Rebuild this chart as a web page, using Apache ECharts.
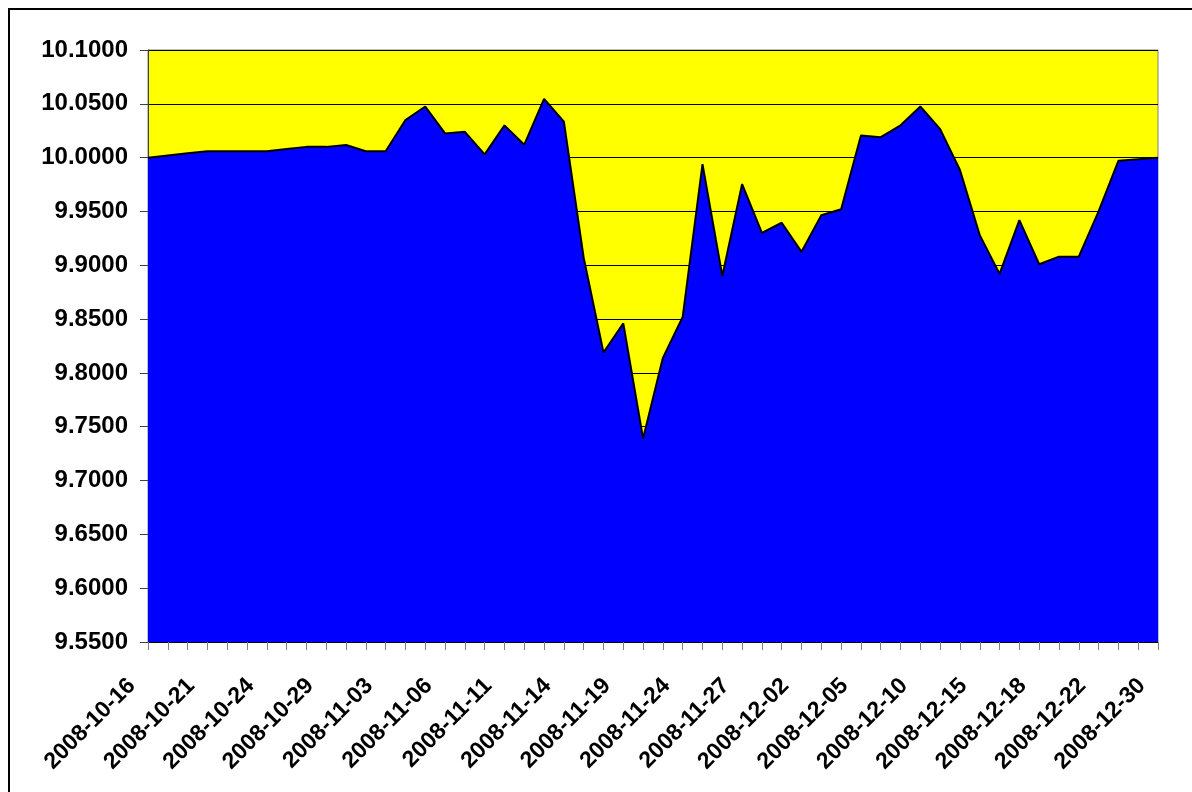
<!DOCTYPE html>
<html style="height: 100%">
<head>
  <meta charset="utf-8" />
  <title>2008 Q4 area chart</title>
  <script src="https://cdn.jsdelivr.net/npm/echarts@6.0.0/dist/echarts.min.js"></script>
</head>
<body style="height: 100%; margin: 0; background: #fff">
  <div id="chart" style="width: 1192px; height: 792px"></div>
  <script>
    const dates = [
      '2008-10-16', '2008-10-17', '2008-10-20', '2008-10-21', '2008-10-22', '2008-10-23',
      '2008-10-24', '2008-10-27', '2008-10-28', '2008-10-29', '2008-10-30', '2008-10-31',
      '2008-11-03', '2008-11-04', '2008-11-05', '2008-11-06', '2008-11-07', '2008-11-10',
      '2008-11-11', '2008-11-12', '2008-11-13', '2008-11-14', '2008-11-17', '2008-11-18',
      '2008-11-19', '2008-11-20', '2008-11-21', '2008-11-24', '2008-11-25', '2008-11-26',
      '2008-11-27', '2008-11-28', '2008-12-01', '2008-12-02', '2008-12-03', '2008-12-04',
      '2008-12-05', '2008-12-08', '2008-12-09', '2008-12-10', '2008-12-11', '2008-12-12',
      '2008-12-15', '2008-12-16', '2008-12-17', '2008-12-18', '2008-12-19', '2008-12-20',
      '2008-12-22', '2008-12-23', '2008-12-24', '2008-12-30'
    ];

    const values = [
      10.0000, 10.0020, 10.0040, 10.0060, 10.0060, 10.0060,
      10.0060, 10.0080, 10.0100, 10.0100, 10.0117, 10.0060,
      10.0060, 10.0350, 10.0475, 10.0225, 10.0240, 10.0030,
      10.0300, 10.0120, 10.0545, 10.0335, 9.9070, 9.8190,
      9.8460, 9.7390, 9.8140, 9.8520, 9.9940, 9.8900,
      9.9755, 9.9300, 9.9395, 9.9125, 9.9465, 9.9520,
      10.0205, 10.0190, 10.0300, 10.0475, 10.0265, 9.9885,
      9.9280, 9.8920, 9.9420, 9.9010, 9.9080, 9.9080,
      9.9500, 9.9970, 9.9985, 10.0000
    ];

    const yMin = 9.55;
    const yMax = 10.10;
    const yStep = 0.05;

    var chart = echarts.init(document.getElementById('chart'));

    const font = 'Arial, "Liberation Sans", sans-serif';

    chart.setOption({
      backgroundColor: '#fff',
      animation: false,
      graphic: [{
        type: 'rect',
        shape: { x: 9, y: 9, width: 1200, height: 800 },
        style: { fill: 'none', stroke: '#000', lineWidth: 2 },
        z: 0
      }],
      grid: {
        left: 148, right: 34, top: 50, bottom: 150,
        show: true,
        backgroundColor: '#ffff00',
        borderColor: '#808080',
        borderWidth: 1
      },
      xAxis: {
        type: 'category',
        data: dates,
        boundaryGap: false,
        axisLine: { lineStyle: { color: '#000', width: 1 } },
        axisTick: { interval: 0, length: 8, lineStyle: { color: '#808080' } },
        axisLabel: {
          interval: 2,
          rotate: 45,
          margin: 24,
          padding: [0, 23, 0, 0],
          color: '#000',
          fontFamily: font,
          fontWeight: 'bold',
          fontSize: 23
        },
        splitLine: { show: false }
      },
      yAxis: {
        type: 'value',
        min: yMin,
        max: yMax,
        interval: yStep,
        axisLine: { show: true, lineStyle: { color: '#404040', width: 1 } },
        axisTick: { show: true, length: 8, lineStyle: { color: '#404040' } },
        axisLabel: {
          margin: 20,
          color: '#000',
          fontFamily: font,
          fontWeight: 'bold',
          fontSize: 24,
          formatter: v => v.toFixed(4)
        },
        splitLine: { show: true, lineStyle: { color: '#000', width: 1 } }
      },
      series: [{
        type: 'line',
        data: values,
        symbol: 'none',
        lineStyle: { color: '#000', width: 2 },
        areaStyle: { color: '#0000ff', opacity: 1, origin: 'start' },
        z: 3
      }]
    });
  </script>
</body>
</html>
